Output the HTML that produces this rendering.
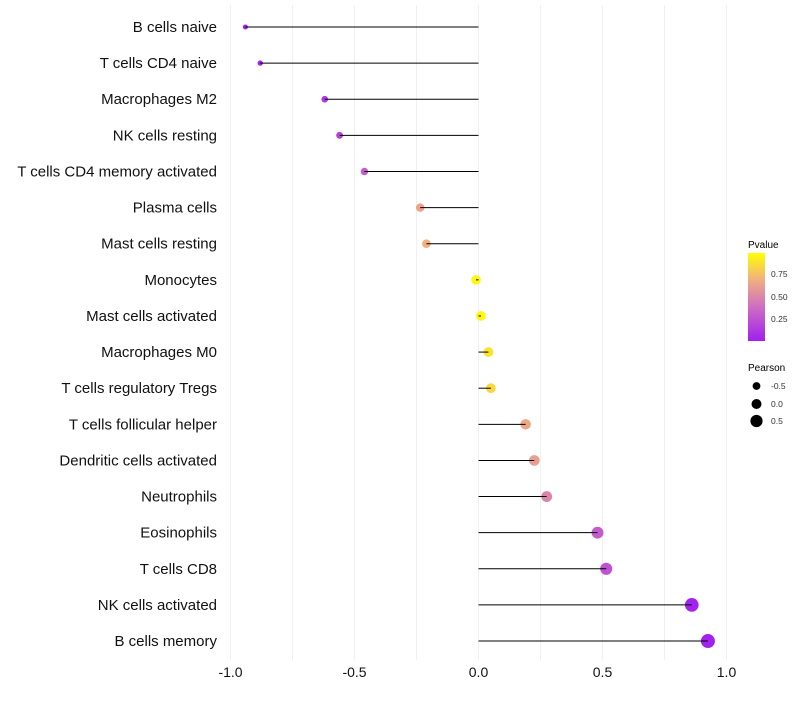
<!DOCTYPE html>
<html><head><meta charset="utf-8"><style>
body{margin:0;background:#fff;font-family:"Liberation Sans",sans-serif}
</style></head><body>
<svg id="chart" width="800" height="700" xmlns="http://www.w3.org/2000/svg">
<defs><linearGradient id="pg" x1="0" y1="1" x2="0" y2="0">
<stop offset="0" stop-color="#A020F0"/><stop offset="0.4" stop-color="#D070C0"/><stop offset="0.7" stop-color="#F0B080"/><stop offset="1" stop-color="#FFFF00"/>
</linearGradient></defs>
<g id="grid"></g><g id="marks"></g><g id="labels"></g>
<g>
<text x="748" y="248" font-size="10">Pvalue</text>
<rect x="748" y="253" width="17" height="88" fill="url(#pg)"/>
<text x="771" y="277" font-size="8.5" fill="#333">0.75</text>
<text x="771" y="300" font-size="8.5" fill="#333">0.50</text>
<text x="771" y="322" font-size="8.5" fill="#333">0.25</text>
</g>
<g>
<text x="748" y="371" font-size="10">Pearson</text>
<circle cx="756.5" cy="386" r="3.9"/><text x="771" y="389" font-size="8.5" fill="#333">-0.5</text>
<circle cx="756.5" cy="404" r="5"/><text x="771" y="407" font-size="8.5" fill="#333">0.0</text>
<circle cx="756.5" cy="421" r="6.1"/><text x="771" y="424" font-size="8.5" fill="#333">0.5</text>
</g>
</svg>
<script>
const categories=["B cells naive","T cells CD4 naive","Macrophages M2","NK cells resting","T cells CD4 memory activated","Plasma cells","Mast cells resting","Monocytes","Mast cells activated","Macrophages M0","T cells regulatory  Tregs ","T cells follicular helper","Dendritic cells activated","Neutrophils","Eosinophils","T cells CD8","NK cells activated","B cells memory"];
const pearson=[-0.94,-0.88,-0.62,-0.56,-0.46,-0.235,-0.21,-0.01,0.01,0.04,0.05,0.19,0.225,0.275,0.48,0.515,0.86,0.925];
const pvalue=[0.0,0.02,0.12,0.18,0.3,0.65,0.7,0.97,0.97,0.9,0.85,0.66,0.62,0.5,0.3,0.25,0.02,0.01];
const xTicks=[-1,-0.5,0,0.5,1];
const xTickLabels=["-1.0","-0.5","0.0","0.5","1.0"];
const NS="http://www.w3.org/2000/svg";
const x=v=>478.5+v*248;
const y=i=>27+i*36.12;
const r=p=>4.8+2.4*p;
function mix(a,b,t){return a.map((c,i)=>Math.round(c+(b[i]-c)*t));}
function color(p){const st=[[0,[160,32,240]],[0.4,[208,112,192]],[0.7,[240,176,128]],[1,[255,255,0]]];
for(let k=1;k<st.length;k++){if(p<=st[k][0]){const t=(p-st[k-1][0])/(st[k][0]-st[k-1][0]);const c=mix(st[k-1][1],st[k][1],t);return`rgb(${c})`;}}return"rgb(255,255,0)";}
function mk(t,a,parent){const e=document.createElementNS(NS,t);for(const k in a)e.setAttribute(k,a[k]);document.getElementById(parent).appendChild(e);return e;}
for(let v=-1;v<=1.001;v+=0.25){const g=mk("line",{x1:x(v),x2:x(v),y1:5,y2:660,stroke:"#f0f0f0","stroke-width":1},"grid");

}
xTicks.forEach((v,i)=>{const t=mk("text",{x:x(v),y:677,"font-size":14,"text-anchor":"middle",fill:"#111"},"labels");t.textContent=xTickLabels[i];

});
categories.forEach((c,i)=>{
const t=mk("text",{x:217,y:y(i)+5,"font-size":15,"text-anchor":"end",fill:"#111"},"labels");t.textContent=c;


const pt=mk("circle",{cx:x(pearson[i]),cy:y(i),r:r(pearson[i]),fill:color(pvalue[i])},"marks");


const ln=mk("line",{x1:x(0),x2:x(pearson[i]),y1:y(i),y2:y(i),stroke:"#000","stroke-width":1},"marks");


});
</script>
</body></html>
